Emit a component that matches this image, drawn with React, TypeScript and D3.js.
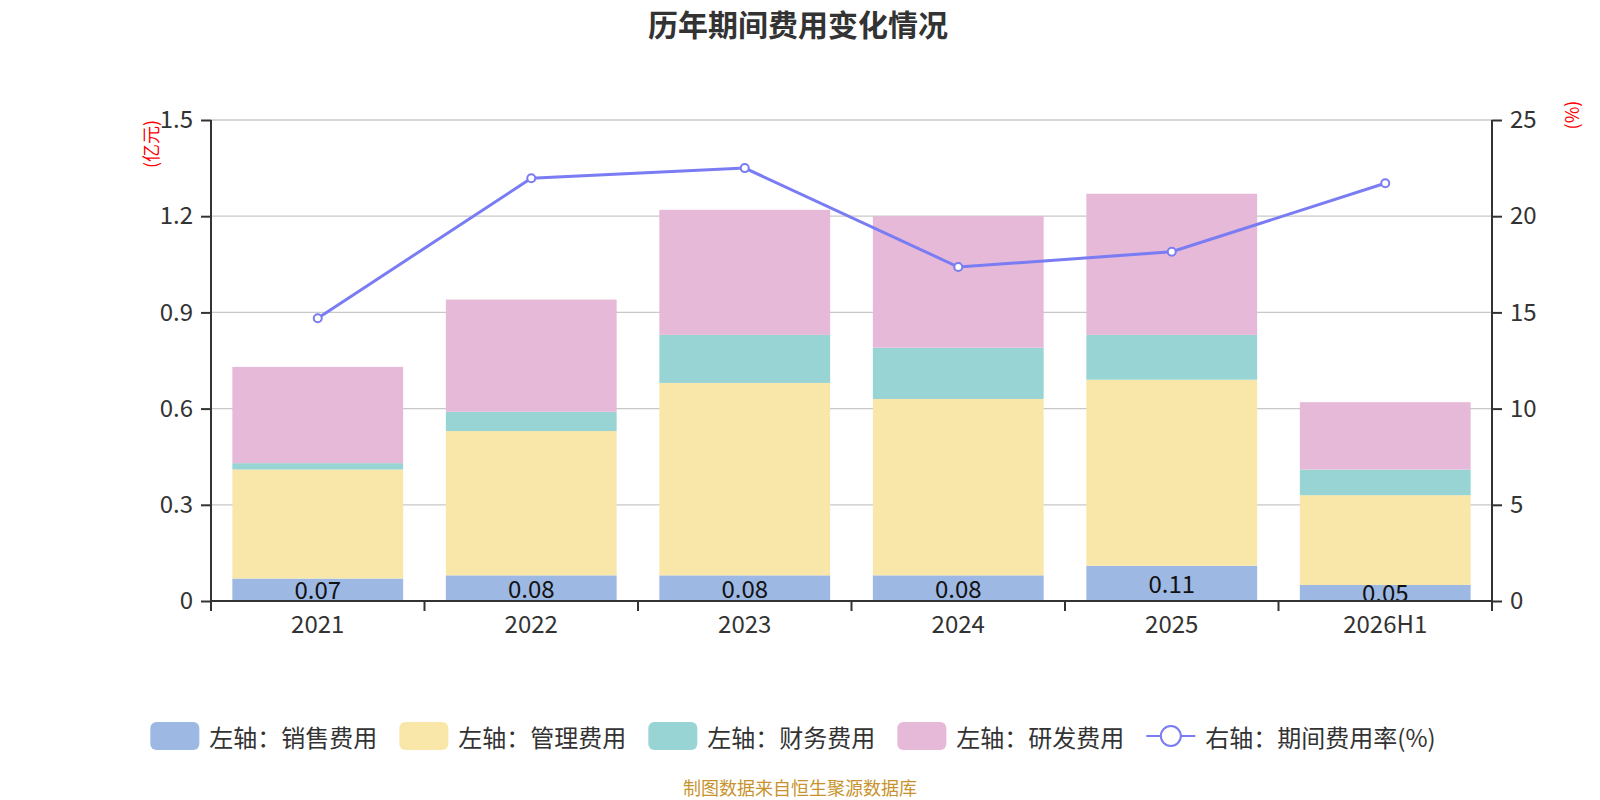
import React, { useRef, useEffect } from "react";
import * as d3 from "d3";

// values (亿元 / %)
const years = ["2021", "2022", "2023", "2024", "2025", "2026H1"];
const salesExp = [0.07, 0.08, 0.08, 0.08, 0.11, 0.05];
const adminExp = [0.34, 0.45, 0.6, 0.55, 0.58, 0.28];
const financeExp = [0.02, 0.06, 0.15, 0.16, 0.14, 0.08];
const rdExp = [0.3, 0.35, 0.39, 0.41, 0.44, 0.21];
const expenseRate = [14.7, 21.97, 22.5, 17.36, 18.15, 21.71];
const leftTicks = [0, 0.3, 0.6, 0.9, 1.2, 1.5];
const rightTicks = [0, 5, 10, 15, 20, 25];

const seriesNames = ["左轴：销售费用", "左轴：管理费用", "左轴：财务费用", "左轴：研发费用"];
const seriesColors = ["#9db8e2", "#f8e7a9", "#99d4d5", "#e7b9d8"];
const lineName = "右轴：期间费用率(%)";
const lineColor = "#7a7cf3";

const FONT = "'Noto Sans CJK SC', 'Noto Sans', sans-serif";

const App = () => {
	const svgRef = useRef<SVGSVGElement | null>(null);

	useEffect(() => {
		if (!svgRef.current) return;
		const width = 1600;
		const height = 800;
		const svg = d3.select(svgRef.current);
		svg.selectAll("*").remove();
		svg.attr("width", width).attr("height", height).style("font-family", FONT);

		const margin = { top: 120, right: 108, bottom: 199, left: 211 };
		const innerWidth = width - margin.left - margin.right;
		const innerHeight = height - margin.top - margin.bottom;

		const x = d3.scaleBand<string>().domain(years).range([0, innerWidth]).paddingInner(0.2).paddingOuter(0.1);
		const yL = d3.scaleLinear().domain([0, 1.5]).range([innerHeight, 0]);
		const yR = d3.scaleLinear().domain([0, 25]).range([innerHeight, 0]);

		// title
		svg.append("text")
			.attr("x", 798)
			.attr("y", 23)
			.attr("text-anchor", "middle")
			.attr("dominant-baseline", "central")
			.style("font-size", "30px")
			.style("font-weight", "bold")
			.attr("fill", "#333")
			.text("历年期间费用变化情况");

		const g = svg.append("g").attr("transform", `translate(${margin.left},${margin.top})`);

		// grid
		g.append("g")
			.selectAll("line")
			.data(leftTicks)
			.join("line")
			.attr("x1", 0)
			.attr("x2", innerWidth)
			.attr("y1", (d) => yL(d))
			.attr("y2", (d) => yL(d))
			.attr("stroke", "#c8c8c8")
			.attr("stroke-width", 1.3);

		// stacked bars
		const rows = years.map((year, i) => ({
			year,
			s0: salesExp[i],
			s1: adminExp[i],
			s2: financeExp[i],
			s3: rdExp[i],
		}));
		const stack = d3.stack<any>().keys(["s0", "s1", "s2", "s3"]);
		const layers = stack(rows);
		layers.forEach((layer, li) => {
			g.append("g")
				.selectAll("rect")
				.data(layer)
				.join("rect")
				.attr("x", (d) => x(d.data.year)!)
				.attr("width", x.bandwidth())
				.attr("y", (d) => yL(d[1]))
				.attr("height", (d) => yL(d[0]) - yL(d[1]))
				.attr("fill", seriesColors[li]);
		});

		// labels on sales bars
		g.append("g")
			.selectAll("text")
			.data(layers[0])
			.join("text")
			.attr("x", (d) => x(d.data.year)! + x.bandwidth() / 2)
			.attr("y", (d) => (yL(d[0]) + yL(d[1])) / 2 - 1)
			.attr("text-anchor", "middle")
			.attr("dominant-baseline", "central")
			.style("font-size", "24px")
			.attr("fill", "#111")
			.text((d) => d3.format(".2f")(d[1] - d[0]));

		// axes
		const axisL = d3.axisLeft(yL).tickValues(leftTicks).tickSize(10).tickPadding(8).tickFormat((d) => String(d));
		const axisR = d3.axisRight(yR).tickValues(rightTicks).tickSize(10).tickPadding(8).tickFormat((d) => String(d));
		const axisB = d3.axisBottom(x).tickSize(0).tickPadding(15);

		const styleAxis = (sel: any) => {
			sel.select(".domain").attr("stroke", "#333").attr("stroke-width", 2);
			sel.selectAll(".tick line").attr("stroke", "#333").attr("stroke-width", 2);
			sel.selectAll(".tick text").attr("fill", "#333").style("font-size", "24px").style("font-family", FONT);
		};

		g.append("g").call(axisL).call(styleAxis).select(".domain").attr("d", `M0,${innerHeight}V0`);
		g.append("g").attr("transform", `translate(${innerWidth},0)`).call(axisR).call(styleAxis).select(".domain").attr("d", `M0,${innerHeight}V0`);
		const bottom = g.append("g").attr("transform", `translate(0,${innerHeight})`).call(axisB).call(styleAxis);
		bottom.select(".domain").attr("d", `M0,0H${innerWidth}`);

		// category boundary ticks
		const step = x.step();
		const start = x(years[0])! - x.paddingOuter() * step;
		bottom.append("g")
			.selectAll("line")
			.data(d3.range(years.length + 1))
			.join("line")
			.attr("x1", (i) => Math.min(innerWidth, start + i * step))
			.attr("x2", (i) => Math.min(innerWidth, start + i * step))
			.attr("y1", 0)
			.attr("y2", 10)
			.attr("stroke", "#333")
			.attr("stroke-width", 2);

		// axis names
		svg.append("text")
			.attr("transform", `translate(150,144) rotate(-90)`)
			.attr("text-anchor", "middle")
			.attr("dominant-baseline", "central")
			.style("font-size", "18px")
			.attr("fill", "#ff0000")
			.text("(亿元)");
		svg.append("text")
			.attr("transform", `translate(1571,115) rotate(-90)`)
			.attr("text-anchor", "middle")
			.attr("dominant-baseline", "central")
			.style("font-size", "18px")
			.attr("fill", "#ff0000")
			.text("(%)");

		// line on right axis
		const line = d3
			.line<number>()
			.x((_, i) => x(years[i])! + x.bandwidth() / 2)
			.y((d) => yR(d));
		g.append("path")
			.datum(expenseRate)
			.attr("d", line)
			.attr("fill", "none")
			.attr("stroke", lineColor)
			.attr("stroke-width", 3);
		g.append("g")
			.selectAll("circle")
			.data(expenseRate)
			.join("circle")
			.attr("cx", (_, i) => x(years[i])! + x.bandwidth() / 2)
			.attr("cy", (d) => yR(d))
			.attr("r", 4)
			.attr("fill", "#fff")
			.attr("stroke", lineColor)
			.attr("stroke-width", 2);

		// legend
		const legendY = 736;
		const legend = svg.append("g");
		const items = [
			...seriesNames.map((n, i) => ({ name: n, color: seriesColors[i], line: false })),
			{ name: lineName, color: lineColor, line: true },
		];
		let cx = 0;
		items.forEach((it) => {
			const item = legend.append("g").attr("transform", `translate(${cx},0)`);
			if (it.line) {
				item.append("line").attr("x1", 0).attr("x2", 49).attr("y1", legendY).attr("y2", legendY).attr("stroke", it.color).attr("stroke-width", 2);
				item.append("circle").attr("cx", 24.5).attr("cy", legendY).attr("r", 10).attr("fill", "#fff").attr("stroke", it.color).attr("stroke-width", 2);
			} else {
				item.append("rect").attr("x", 0).attr("y", legendY - 14).attr("width", 49).attr("height", 28).attr("rx", 6).attr("fill", it.color);
			}
			const t = item.append("text")
				.attr("x", 59)
				.attr("y", legendY)
				.attr("dominant-baseline", "central")
				.style("font-size", "24px")
				.attr("fill", "#333")
				.text(it.name);
			const tw = (t.node() as SVGTextElement).getComputedTextLength();
			cx += 59 + tw + 22;
		});
		const totalW = cx - 22;
		legend.attr("transform", `translate(${793 - totalW / 2},0)`);

		// source footnote
		svg.append("text")
			.attr("x", 800)
			.attr("y", 787)
			.attr("text-anchor", "middle")
			.attr("dominant-baseline", "central")
			.style("font-size", "18px")
			.attr("fill", "#c8932d")
			.text("制图数据来自恒生聚源数据库");
	}, []);

	return (
		<div style={{ position: "absolute", left: 0, top: 0, width: 1600, height: 800, background: "#fff" }}>
			<svg ref={svgRef}></svg>
		</div>
	);
};

export default App;
